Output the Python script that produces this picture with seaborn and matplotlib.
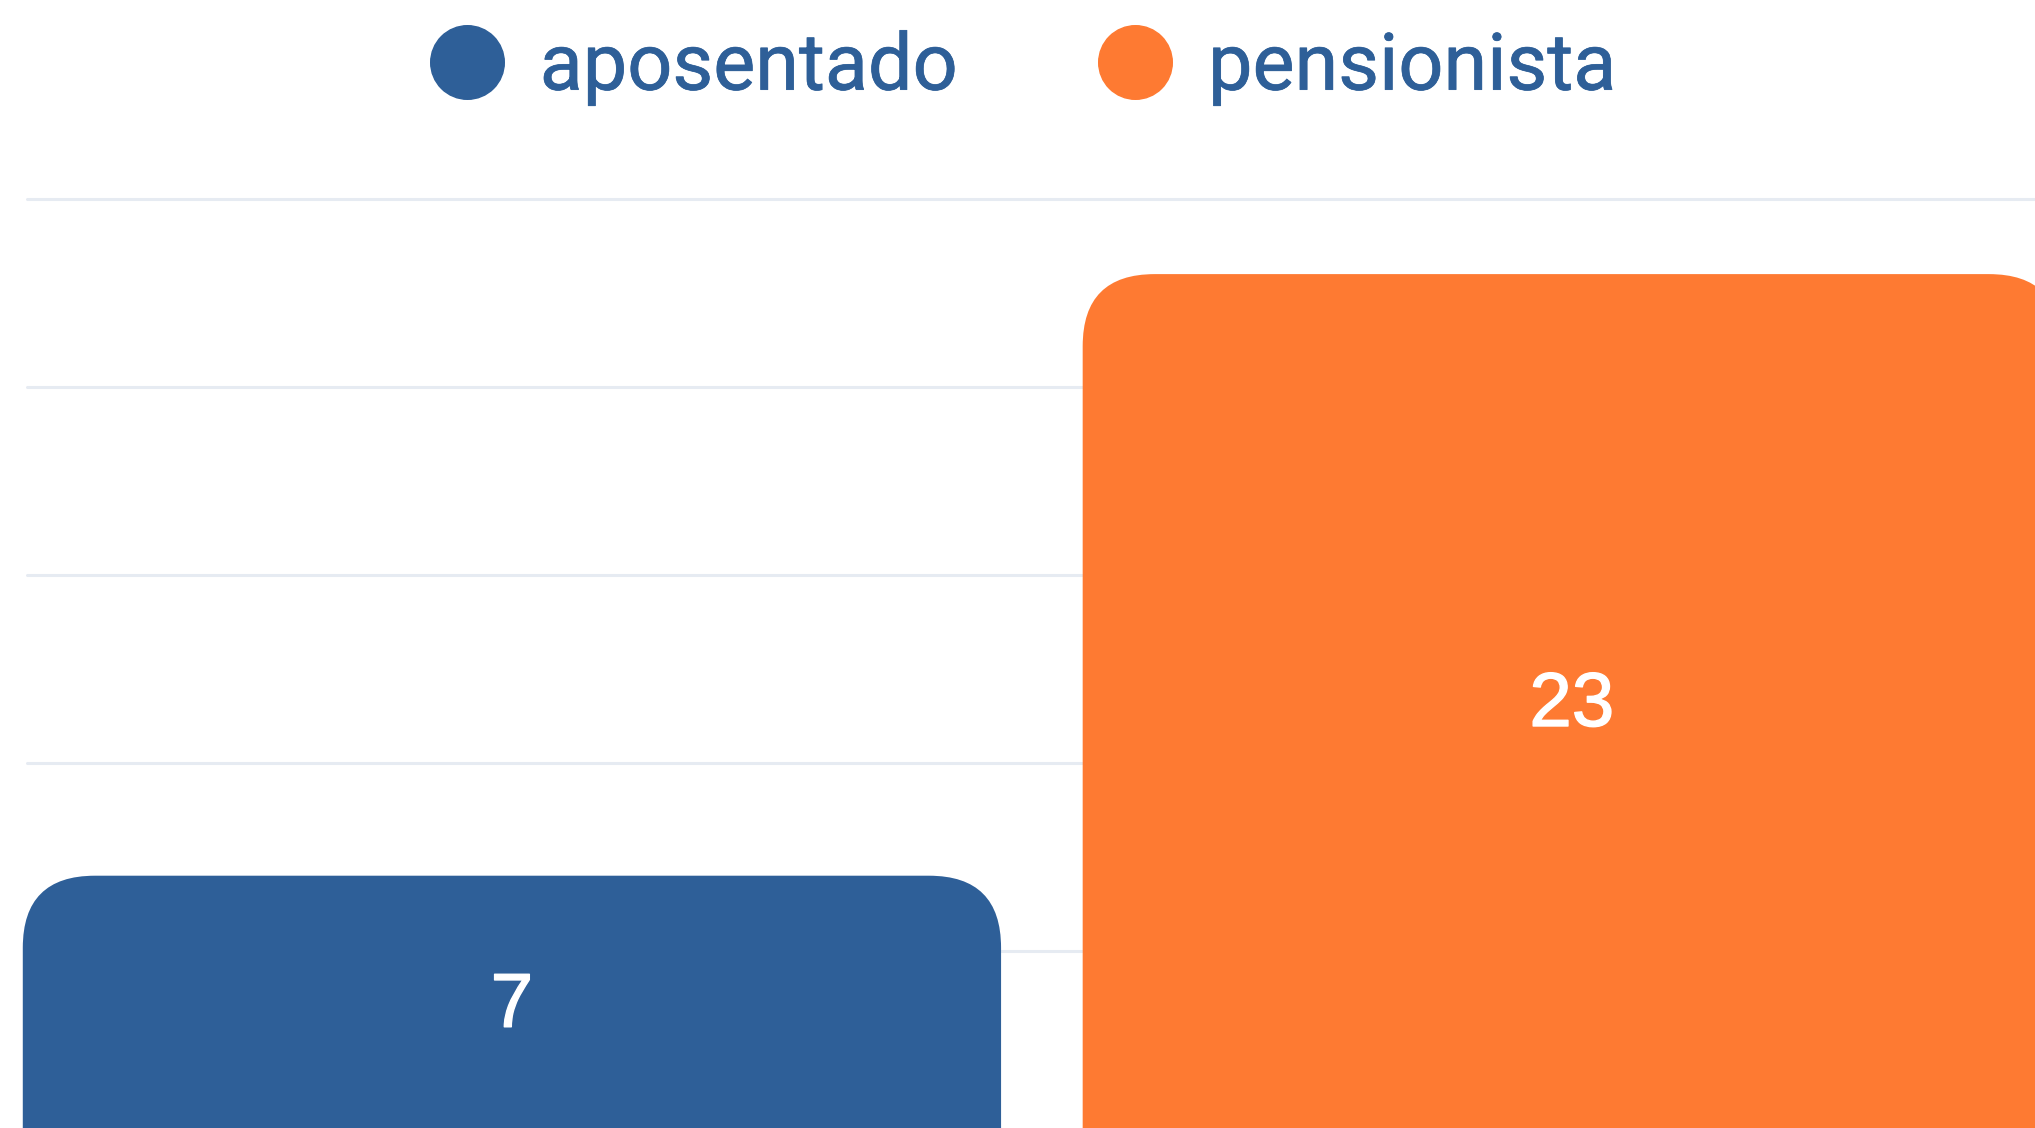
import numpy as np
import pandas as pd
import matplotlib
matplotlib.use("Agg")
import matplotlib.pyplot as plt
import matplotlib.patheffects as pe
import seaborn as sns
from matplotlib.patches import FancyBboxPatch
from matplotlib.lines import Line2D

categorias = ["aposentado", "pensionista"]
valores = [7, 23]
cores = ["#2e5f98", "#fe7a32"]
grade = [5, 10, 15, 20, 25]

df = pd.DataFrame({"tipo": categorias, "qtd": valores})

sns.set_theme(style="white")
plt.rcParams["font.family"] = ["Roboto", "DejaVu Sans"]

fig = plt.figure(figsize=(20.35, 11.28), dpi=100)
ax = fig.add_axes([0, 0, 1, 1])
sns.barplot(data=df, x="tipo", y="qtd", hue="tipo", palette=cores, saturation=1,
            width=0.923, legend=False, ax=ax, zorder=2)

ax.set_xlim(-0.483, 1.437)
ax.set_ylim(0.29, 30.29)
ax.set_axis_off()

# grid lines
for g in grade:
    ax.axhline(g, xmin=27 / 2035, color="#e6ebf2", lw=2.2, zorder=1)

# swap seaborn rectangles for rounded ones
fig.canvas.draw()
(x0, y0), (x1, y1) = ax.transData.transform([(0, 0), (1, 1)])
px_x = x1 - x0
px_y = y1 - y0
raio = 72 / px_x
aspecto = px_x / px_y

bars = list(ax.patches)
for p, v in zip(bars, valores):
    x, w, h = p.get_x(), p.get_width(), p.get_height()
    c = p.get_facecolor()
    p.remove()
    ax.add_patch(FancyBboxPatch((x, -5), w, h + 5,
                                boxstyle=f"round,pad=0,rounding_size={raio}",
                                mutation_aspect=aspecto, fc=c, ec="none", zorder=2))
    ax.text(x + w / 2, h / 2, str(v), ha="center", va="center", color="white",
            fontsize=55, family=["Liberation Sans", "DejaVu Sans"], zorder=3,
            path_effects=[pe.withStroke(linewidth=1.0, foreground="white")])

handles = [Line2D([], [], marker="o", ls="", markersize=53,
                  markerfacecolor=c, markeredgecolor=c) for c in cores]
leg = fig.legend(handles, categorias, loc="center", bbox_to_anchor=(0.502, 0.94),
                 ncol=2, frameon=False, handlelength=1.0,
                 handletextpad=0.42, columnspacing=1.75, labelcolor="#2e5f98",
                 prop={"family": "Roboto", "size": 57})
for t in leg.get_texts():
    t.set_path_effects([pe.withStroke(linewidth=0.5, foreground="#2e5f98")])

fig.savefig("out.png", dpi=100)
